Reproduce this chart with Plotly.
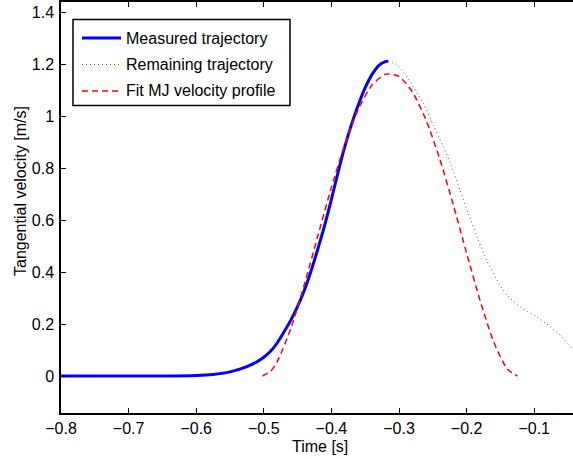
import plotly.graph_objects as go

# ---- data ----
measured_t = [-0.80, -0.75, -0.70, -0.65, -0.60, -0.575, -0.55, -0.525, -0.51, -0.50,
              -0.49, -0.48, -0.47, -0.46, -0.45, -0.44, -0.43, -0.42, -0.41, -0.40,
              -0.39, -0.38, -0.37, -0.36, -0.35, -0.34, -0.33, -0.32, -0.316]
measured_v = [0.0, 0.0, 0.0, 0.0, 0.002, 0.006, 0.016, 0.036, 0.055, 0.072,
              0.095, 0.128, 0.170, 0.215, 0.268, 0.330, 0.405, 0.490, 0.580, 0.680,
              0.785, 0.885, 0.970, 1.045, 1.110, 1.160, 1.195, 1.210, 1.212]

remaining_t = [-0.316, -0.305, -0.2936, -0.2788, -0.264, -0.2493, -0.2345, -0.222, -0.2098,
               -0.1975, -0.1827, -0.1703, -0.1555, -0.1407, -0.121, -0.0963, -0.0766,
               -0.0593, -0.0445, -0.035]
remaining_v = [1.212, 1.200, 1.171, 1.113, 1.050, 0.966, 0.883, 0.806, 0.716,
               0.626, 0.523, 0.446, 0.370, 0.312, 0.267, 0.228, 0.190,
               0.151, 0.107, 0.085]

fit_t = [-0.502, -0.49, -0.48, -0.46, -0.44, -0.42, -0.40, -0.38, -0.36, -0.34, -0.32,
         -0.30, -0.28, -0.26, -0.24, -0.22, -0.20, -0.18, -0.16, -0.14, -0.125]
fit_v = [0.0, 0.018, 0.056, 0.183, 0.352, 0.540, 0.726, 0.893, 1.028, 1.120, 1.162,
         1.153, 1.093, 0.985, 0.838, 0.662, 0.473, 0.290, 0.132, 0.027, 0.0]

series_names = ["Measured trajectory", "Remaining trajectory", "Fit MJ velocity profile"]
x_ticks = [-0.8, -0.7, -0.6, -0.5, -0.4, -0.3, -0.2, -0.1]
y_ticks = [0, 0.2, 0.4, 0.6, 0.8, 1.0, 1.2, 1.4]

FONT = "Liberation Sans, Arial, Helvetica, sans-serif"
FS = 16

W, H = 573, 459
L, R, T, B = 61, 0, 2, 46
PW, PH = W - L - R, H - T - B

def px(xp):
    return (xp - L) / PW

def py(yp):
    return (H - B - yp) / PH

fig = go.Figure()
fig.add_trace(go.Scatter(x=remaining_t, y=remaining_v, mode="lines", name=series_names[1],
                         line=dict(color="#555555", width=1, dash="1px,3px",
                                   shape="spline", smoothing=0.6),
                         showlegend=False))
fig.add_trace(go.Scatter(x=measured_t, y=measured_v, mode="lines", name=series_names[0],
                         line=dict(color="#0000FF", width=3, shape="spline", smoothing=0.8),
                         showlegend=False))
fig.add_trace(go.Scatter(x=fit_t, y=fit_v, mode="lines", name=series_names[2],
                         line=dict(color="#FF0000", width=1.5, dash="6px,4px",
                                   shape="spline", smoothing=0.6),
                         showlegend=False))

# custom legend (MATLAB style)
shapes = [dict(type="rect", xref="paper", yref="paper",
               x0=px(73), x1=px(290), y0=py(105.5), y1=py(19.5),
               line=dict(color="black", width=1.5), fillcolor="white", layer="above")]
styles = [dict(color="#0000FF", width=3),
          dict(color="#555555", width=1, dash="1px,3px"),
          dict(color="#FF0000", width=1.5, dash="6px,4px")]
rows = [38, 64.5, 91]
annotations = []
for name, st, ry in zip(series_names, styles, rows):
    shapes.append(dict(type="line", xref="paper", yref="paper",
                       x0=px(82), x1=px(121), y0=py(ry), y1=py(ry), line=st, layer="above"))
    annotations.append(dict(text=name, xref="paper", yref="paper", x=px(124), y=py(ry),
                            xanchor="left", yanchor="middle", showarrow=False,
                            font=dict(family=FONT, size=FS, color="black")))

annotations.append(dict(text="Tangential velocity [m/s]", xref="paper", yref="paper",
                        x=px(20.5), y=py(191.5), xanchor="center", yanchor="middle",
                        textangle=-90, showarrow=False,
                        font=dict(family=FONT, size=FS, color="black")))
annotations.append(dict(text="Time [s]", xref="paper", yref="paper",
                        x=px(320), y=py(446), xanchor="center", yanchor="middle",
                        showarrow=False, font=dict(family=FONT, size=FS, color="black")))

fig.update_layout(
    width=W, height=H,
    margin=dict(l=L, r=R, t=T, b=B, pad=0),
    paper_bgcolor="white", plot_bgcolor="white",
    font=dict(family=FONT, size=FS, color="black"),
    shapes=shapes, annotations=annotations,
    showlegend=False,
)
fig.update_xaxes(range=[-0.8, -0.0426], tickvals=x_ticks,
                 ticks="inside", ticklen=5, tickwidth=1, tickcolor="black",
                 showline=True, linecolor="black", linewidth=1.5, mirror="ticks",
                 showgrid=False, zeroline=False, ticklabelstandoff=0,
                 tickfont=dict(family=FONT, size=FS, color="black"))
fig.update_yaxes(range=[-0.1424, 1.4396], tickvals=y_ticks,
                 ticks="inside", ticklen=5, tickwidth=1, tickcolor="black",
                 showline=True, linecolor="black", linewidth=1.5, mirror=False,
                 showgrid=False, zeroline=False, ticklabelstandoff=2,
                 tickfont=dict(family=FONT, size=FS, color="black"))

fig.write_html("out.html")
